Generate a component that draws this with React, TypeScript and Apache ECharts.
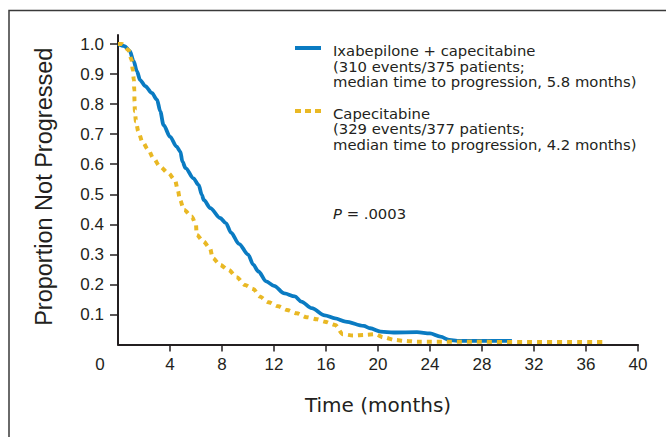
import React, { useEffect, useRef } from "react";
import * as echarts from "echarts";

// Kaplan-Meier style curves (months, proportion not progressed)
const ixaTime = [0, 0.5, 0.9, 1.2, 1.45, 1.7, 2.1, 2.6, 3.0, 3.25, 3.5, 4.0, 4.5, 4.8, 4.95, 5.2, 5.8, 6.2, 6.45, 6.6, 7.1, 7.85, 8.3, 8.7, 9.3, 10.0, 10.4, 10.8, 11.4, 12.0, 12.8, 13.6, 14.1, 14.9, 15.9, 16.7, 17.5, 18.9, 19.4, 20.2, 21.2, 23.0, 24.0, 24.8, 25.5, 26.1, 30.3];
const ixaValue = [1.0, 0.993, 0.977, 0.944, 0.91, 0.88, 0.86, 0.837, 0.815, 0.776, 0.731, 0.692, 0.659, 0.642, 0.609, 0.587, 0.553, 0.531, 0.498, 0.481, 0.454, 0.421, 0.404, 0.372, 0.335, 0.3, 0.266, 0.243, 0.21, 0.195, 0.17, 0.16, 0.143, 0.121, 0.097, 0.087, 0.076, 0.062, 0.054, 0.043, 0.04, 0.041, 0.037, 0.026, 0.015, 0.012, 0.012];

const capTime = [0, 0.3, 0.8, 1.05, 1.13, 1.22, 1.25, 1.27, 1.3, 1.38, 1.56, 1.87, 2.33, 2.72, 3.23, 3.87, 4.38, 4.6, 4.77, 5.08, 5.67, 6.0, 6.05, 6.56, 7.08, 7.28, 7.85, 8.5, 9.13, 9.77, 10.4, 10.9, 11.56, 12.33, 13.0, 13.75, 14.5, 15.3, 15.9, 16.7, 17.3, 18.1, 19.0, 19.8, 20.4, 21.3, 22.1, 23.0, 37.3];
const capValue = [1.0, 1.0, 0.98, 0.947, 0.914, 0.88, 0.847, 0.81, 0.776, 0.743, 0.709, 0.675, 0.648, 0.62, 0.592, 0.57, 0.548, 0.514, 0.481, 0.448, 0.426, 0.398, 0.365, 0.343, 0.32, 0.288, 0.265, 0.248, 0.224, 0.198, 0.185, 0.16, 0.141, 0.127, 0.115, 0.104, 0.091, 0.084, 0.076, 0.065, 0.034, 0.03, 0.032, 0.034, 0.024, 0.015, 0.012, 0.009, 0.008];

const xTickValues = [4, 8, 12, 16, 20, 24, 28, 32, 36, 40];
const yTickValues = [0.1, 0.2, 0.3, 0.4, 0.5, 0.6, 0.7, 0.8, 0.9, 1.0];

const seriesNames = ["Ixabepilone + capecitabine", "Capecitabine"];
const legendIxa = ["Ixabepilone + capecitabine", "(310 events/375 patients;", "median time to progression, 5.8 months)"];
const legendCap = ["Capecitabine", "(329 events/377 patients;", "median time to progression, 4.2 months)"];
const pLabel = "P";
const pValue = " = .0003";
const originLabel = "0";
const xName = "Time (months)";
const yName = "Proportion Not Progressed";

const BLUE = "#0a7bc2";
const GOLD = "#e9b824";
const INK = "#231f20";
const FONT = "DejaVu Sans";
const TICKFONT = "Liberation Sans";

export default function App() {
  const ref = useRef<HTMLDivElement>(null);

  useEffect(() => {
    if (!ref.current) return;
    const chart = echarts.init(ref.current, undefined, { renderer: "svg" });

    const legendText = (lines: string[], y0: number) =>
      lines.map((t, i) => ({
        type: "text",
        x: 333,
        y: y0 + i * 15.5,
        style: { text: t, fill: INK, font: `14.8px "${FONT}"`, verticalAlign: "middle", align: "left" },
      }));

    chart.setOption({
      animation: false,
      backgroundColor: "#ffffff",
      grid: { left: 118, right: 28, top: 35, bottom: 92.5, containLabel: false },
      xAxis: {
        type: "value",
        min: 0,
        max: 40,
        interval: 4,
        name: xName,
        nameLocation: "middle",
        nameGap: 50,
        nameTextStyle: { fontFamily: FONT, fontSize: 20, color: INK },
        axisLine: { show: true, lineStyle: { color: INK, width: 2 } },
        axisTick: { show: true, length: 7, lineStyle: { color: INK, width: 1.5 }, customValues: xTickValues },
        axisLabel: { color: INK, fontFamily: TICKFONT, fontSize: 17, margin: 11, customValues: xTickValues },
        splitLine: { show: false },
      },
      yAxis: {
        type: "value",
        min: 0,
        max: 1.03,
        name: yName,
        nameLocation: "middle",
        nameRotate: 90,
        nameGap: 62,
        nameTextStyle: { fontFamily: "Liberation Sans", fontSize: 23.5, color: INK, padding: [0, 0, 0, 6] },
        axisLine: { show: true, lineStyle: { color: INK, width: 2 } },
        axisTick: { show: true, length: 8, lineStyle: { color: INK, width: 1.5 }, customValues: yTickValues },
        axisLabel: {
          color: INK,
          fontFamily: TICKFONT,
          fontSize: 17,
          margin: 14,
          customValues: yTickValues,
          formatter: (v: number) => v.toFixed(1),
        },
        splitLine: { show: false },
      },
      series: [
        {
          name: seriesNames[0],
          type: "line",
          data: ixaTime.map((t, i) => [t, ixaValue[i]]),
          showSymbol: false,
          symbol: "none",
          smooth: 0.3,
          smoothMonotone: "x",
          lineStyle: { color: BLUE, width: 3.8 },
          z: 2,
        },
        {
          name: seriesNames[1],
          type: "line",
          data: capTime.map((t, i) => [t, capValue[i]]),
          showSymbol: false,
          symbol: "none",
          smooth: 0.3,
          smoothMonotone: "x",
          lineStyle: { color: GOLD, width: 4, type: [5, 5], cap: "butt" },
          z: 3,
        },
      ],
      graphic: [
        {
          type: "rect",
          shape: { x: 9, y: 10.5, width: 700, height: 500 },
          style: { fill: "none", stroke: "#3a3a3a", lineWidth: 1.5 },
          silent: true,
        },
        {
          type: "text",
          x: 100,
          y: 364,
          style: { text: originLabel, fill: INK, font: `17px "${TICKFONT}"`, align: "center", verticalAlign: "middle" },
        },
        { type: "line", shape: { x1: 295, y1: 48, x2: 321, y2: 48 }, style: { stroke: BLUE, lineWidth: 4 } },
        { type: "line", shape: { x1: 295, y1: 111, x2: 321, y2: 111 }, style: { stroke: GOLD, lineWidth: 4, lineDash: [6, 4] } },
        ...legendText(legendIxa, 50.5),
        ...legendText(legendCap, 113),
        {
          type: "text",
          x: 333,
          y: 213,
          style: {
            text: `{i|${pLabel}}${pValue}`,
            fill: INK,
            font: `14.8px "${FONT}"`,
            verticalAlign: "middle",
            rich: { i: { fontStyle: "italic", fontFamily: FONT, fontSize: 14.8, fill: INK } },
          },
        },
      ],
    });

    return () => chart.dispose();
  }, []);

  return <div ref={ref} style={{ position: "absolute", left: 0, top: 0, width: 666, height: 437 }} />;
}
